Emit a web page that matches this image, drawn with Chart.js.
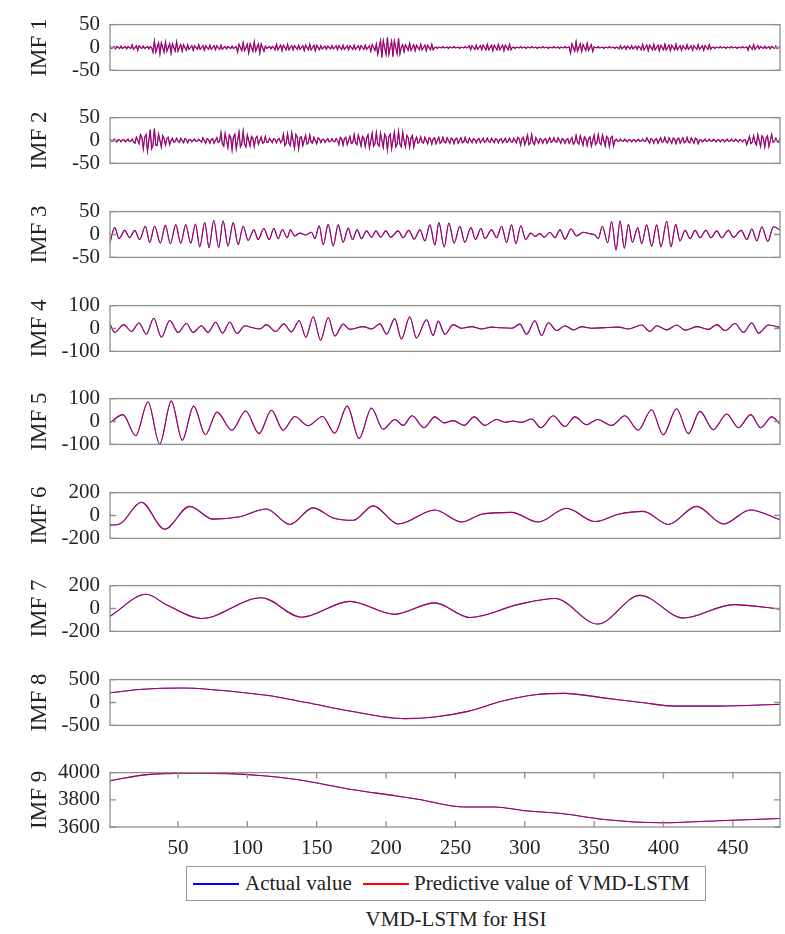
<!DOCTYPE html>
<html>
<head>
<meta charset="utf-8">
<script src="https://cdn.jsdelivr.net/npm/chart.js@4.4.0/dist/chart.umd.min.js"></script>
<style>
  body { margin: 0; background: #fff; }
  #wrap { position: relative; width: 785px; height: 934px; font-family: "Liberation Serif", "Times New Roman", serif; color: #222; }
  #legend { position: absolute; left: 186px; top: 866px; width: 518px; height: 33px; border: 1px solid #9a9a9a; background: #fff; }
  #legend .sw { position: absolute; top: 16px; width: 46px; height: 1.5px; }
  #legend .tx { position: absolute; top: 0; line-height: 33px; font-size: 21px; white-space: nowrap; }
  #title { position: absolute; left: 356px; top: 906px; width: 200px; text-align: center; font-size: 21px; line-height: 26px; }
</style>
</head>
<body>
<div id="wrap">
  <div id="legend">
    <span class="sw" style="left:6px;background:#0000ff"></span><span class="tx" style="left:58px">Actual value</span>
    <span class="sw" style="left:176px;background:#ff0000"></span><span class="tx" style="left:227px">Predictive value of VMD-LSTM</span>
  </div>
  <div id="title">VMD-LSTM for HSI</div>
</div>
<script>
// values (samples 1..484)
const imfLabels = ["IMF 1", "IMF 2", "IMF 3", "IMF 4", "IMF 5", "IMF 6", "IMF 7", "IMF 8", "IMF 9"];
const seriesNames = ["Actual value", "Predictive value of VMD-LSTM"];
const xTicks = [50, 100, 150, 200, 250, 300, 350, 400, 450];
const yTickSets = [
  [-50, 0, 50], [-50, 0, 50], [-50, 0, 50],
  [-100, 0, 100], [-100, 0, 100],
  [-200, 0, 200], [-200, 0, 200],
  [-500, 0, 500], [3600, 3800, 4000]
];

// IMF 1 and IMF 2: one value per sample
const imf1 = [
  3,-2,0,2,-3,2,0,-2, 3,-2,0,2,-3,2,0,-2, 6,-4,0,4,-6,4,0,-2, 3,-2,0,2,-3,2,0,-10,
  14,-10,0,10,-14,10,0,-10, 12,-8,0,8,-12,8,0,-8, 12,-8,0,6,-8,6,0,-6, 6,-4,0,4,-6,4,0,-4,
  6,-4,0,4,-6,4,0,-4, 5,-4,0,4,-5,4,0,-4, 5,-4,0,2,-3,2,0,-2, 3,-2,0,2,-10,7,0,-7,
  10,-7,0,7,-12,8,0,-8, 12,-8,0,8,-12,8,0,-8, 3,-2,0,2,-3,2,0,-5, 7,-5,0,5,-7,5,0,-5,
  7,-5,0,4,-5,4,0,-4, 5,-4,0,4,-7,5,0,-5, 7,-5,0,5,-7,5,0,-5, 4,-3,0,3,-4,3,0,-3,
  4,-3,0,4,-5,4,0,-4, 5,-4,0,4,-5,4,0,-4, 5,-4,0,4,-5,4,0,-4, 5,-4,0,4,-8,6,0,-6,
  8,-15,0,15,-22,15,0,-15, 22,-15,0,14,-20,14,0,-14, 20,-14,0,6,-9,6,0,-6, 9,-6,0,6,-7,5,0,-5,
  7,-5,0,5,-7,5,0,-5, 7,-5,0,1,-2,1,0,-1, 2,-1,0,1,-2,1,0,-1, 2,-1,0,1,-2,1,0,-1,
  2,-1,0,4,-5,4,0,-4, 5,-4,0,4,-5,5,0,-5, 7,-5,0,5,-7,5,0,-5, 7,-5,0,5,-7,5,0,-5,
  7,-5,0,1,-2,1,0,-1, 2,-1,0,1,-2,1,0,-1, 2,-1,0,1,-2,1,0,-1, 2,-1,0,1,-2,1,0,-1,
  2,-1,0,1,-2,1,0,-1, 2,-1,0,1,-12,8,0,-8, 12,-8,0,8,-9,6,0,-6, 9,-6,0,6,-9,1,0,-1,
  2,-1,0,1,-2,1,0,-1, 2,-1,0,1,-2,1,0,-3, 4,-3,0,3,-4,3,0,-3, 4,-3,0,3,-4,3,0,-5,
  7,-5,0,5,-7,5,0,-5, 7,-5,0,5,-7,5,0,-5, 7,-5,0,5,-7,5,0,-5, 7,-5,0,4,-6,4,0,-4,
  6,-4,0,4,-6,4,0,-4, 6,-4,0,4,-6,4,0,-4, 6,-4,0,1,-2,1,0,-1, 2,-1,0,1,-2,1,0,-1,
  2,-1,0,1,-2,1,0,-1, 2,-1,0,1,-6,4,0,-4, 6,-4,0,4,-3,2,0,-2, 3,-2,0,2,-3,2,0,-2,
  3,-2,0,2
];
const imf2 = [
  3,-1,-2,3,0,-3,2,1,-3,1,2,-3,0,3,-2,-1,
  3,-3,-6,7,0,-7,13,7,-18,7,13,-23,0,24,-18,-10,
  26,-10,-11,14,0,-14,11,4,-10,4,7,-9,0,5,-4,-2,
  5,-2,-4,5,0,-5,4,2,-5,2,2,-3,0,3,-2,-1,
  3,-1,-4,6,0,-6,4,2,-6,2,4,-6,0,6,-4,-2,
  17,-7,-12,15,0,-15,12,7,-20,8,14,-18,0,18,-14,-8,
  20,-8,-14,12,0,-12,9,5,-13,5,9,-8,0,8,-6,-4,
  9,-4,-4,5,0,-5,4,2,-5,2,4,-5,0,14,-11,-6,
  15,-6,-11,17,0,-17,13,7,-18,7,8,-11,0,11,-8,-5,
  12,-3,-6,7,0,-7,6,3,-4,2,3,-4,0,4,-3,-2,
  4,-2,-3,4,0,-9,7,4,-10,4,7,-9,0,9,-7,-5,
  13,-5,-9,12,0,-12,9,5,-13,5,12,-16,0,16,-12,-7,
  17,-7,-12,16,0,-15,14,8,-20,8,14,-18,0,18,-14,-8,
  20,-8,-14,18,0,-14,11,6,-15,6,11,-14,0,7,-6,-3,
  8,-3,-6,7,0,-7,6,3,-8,3,6,-7,0,7,-6,-3,
  7,-3,-5,6,0,-6,5,3,-7,3,5,-6,0,6,-5,-3,
  7,-3,-5,5,0,-5,4,2,-5,2,4,-5,0,5,-4,-2,
  5,-2,-4,5,0,-5,4,2,-5,2,4,-5,0,5,-4,-2,
  5,-2,-4,5,0,-5,7,4,-10,4,7,-9,0,12,-9,-5,
  13,-5,-9,6,0,-6,4,2,-6,2,4,-6,0,6,-4,-2,
  6,-2,-4,6,0,-6,4,2,-6,2,4,-6,0,6,-8,-4,
  11,-4,-8,10,0,-10,8,4,-11,4,8,-12,0,12,-9,-5,
  13,-5,-9,12,0,-12,9,5,-13,5,9,-12,0,3,-2,-1,
  3,-1,-2,3,0,-3,2,1,-3,1,2,-3,0,3,-2,-1,
  3,-1,-2,6,0,-6,4,2,-6,2,4,-6,0,6,-4,-2,
  7,-3,-5,6,0,-6,5,3,-7,3,5,-6,0,6,-5,-3,
  7,-3,-5,6,0,-6,5,3,-7,1,2,-3,0,3,-2,-1,
  3,-1,-2,3,0,-3,2,1,-3,1,2,-3,0,3,-2,-1,
  3,-1,-2,3,0,-3,2,1,-3,1,2,-9,0,9,-7,-4,
  10,-4,-10,13,0,-13,10,5,-14,5,10,-13,0,13,-4,-2,
  5,-2,-4,5
];

// IMF 3..9: turning points (sample, value)
const imf3X = [1,4.4,7.5,11.6,15.2,18.8,22.4,26.5,29.6,33.2, 37.3,40.9,44.5,48.4,52,55.6,59.2,62.6,65.7,69.3,
  72.4,75.8,79.4,82.5,86.1,89.8,93.4,97,100.6,104.7, 107.8,111.9,115.7,119.1,122.2,125.3,128.7,131.1,134.2,137.8,
  142.2,146.3,148.7,151.8,154.7,158.3,161.9,165.5,169.1,172.7, 175.8,179.2,182.3,185.9,189.6,192.7,196.1,199.9,203.3,208.7,
  212.3,216.4,220.3,224.4,228,231.6,235.2,238.1,241.9,245.3, 249.1,253.2,256.8,261.2,264.5,268.4,271.3,276.1,279.7,283.3,
  286.9,290.5,293.6,297.2,300.6,304.4,307.3,310.9,314.1,318.1, 321.8,325.4,329,333.3,337.4,342.2,346.3,350.6,353,355.9,
  359.8,362.6,365.8,368.7,371.8,374.7,377.6,381.4,384.3,387.9, 391.5,395.1,398.2,402.3,405.4,408.8,411.9,415.6,419.2,422.8,
  426.4,430.5,434.3,438.4,442,446.8,450.4,456,460.1,463.7, 467.3,470.9,475.2,479.3,484];
const imf3Y = [-17,15,-9,9,-7,9,-11,18,-17,18, -19,20,-20,21,-19,21,-19,23,-27,26,
  -29,31,-29,30,-25,26,-22,18,-13,10, -11,13,-11,13,-9,11,-7,10,-3,3,
  -1,5,-9,19,-22,22,-25,21,-17,14, -11,10,-9,8,-6,8,-6,8,-6,8,
  -7,9,-10,10,-14,21,-23,26,-27,25, -19,18,-17,15,-11,13,-9,10,-7,18,
  -17,21,-20,19,-11,3,-4,2,-6,5, -7,10,-10,12,-3,5,2,-1,-9,18,
  -18,29,-34,30,-30,22,-17,15,-20,21, -26,21,-27,29,-27,22,-14,9,-9,9,
  -7,9,-7,8,-7,9,-6,9,-11,12, -14,17,-15,17,10];
const imf4X = [1,4.4,10.9,16.4,21.9,27.2,32.5,38,44.1,50.1, 56.1,60.9,66.9,71.7,77.2,82.1,87.3,92.6,98.2,104.2,
  109,113.8,120.5,126.3,131.8,137.4,142.2,147.5,152.8,158.3, 163.1,169.1,173.9,183.5,189.6,195.6,200.4,206.3,211.1,217.1,
  221.9,229.2,234,237.6,242.4,248.4,254.4,261.6,268.8,276.1, 282.1,290.5,296.5,301.3,307.3,312.1,317,323,329,335,
  341,348.2,357.8,367.5,374.7,384.3,390.3,395.1,402.3,409.5, 415.6,424,432.4,438.4,444.4,451.6,457.6,463.7,468.5,475.7, 484];
const imf4Y = [19,-17,17,-13,24,-25,45,-38,35,-17, 22,-17,12,-17,27,-20,27,-22,12,3,
  -2,17,-13,20,-15,34,-38,51,-51,48, -33,19,-4,8,-2,20,-25,43,-46,51,
  -41,38,-30,32,-25,17,1,8,-2,6, 3,1,19,-25,34,-30,25,-9,12,-6,
  8,1,4,6,-2,15,-13,12,-6,15, -7,8,-4,17,-9,22,-17,24,-20,15, 4];
const imf5X = [1,10.3,19.5,28.4,36.8,45.2,53.1,61.3,69.8,78.1, 88.9,98.8,108.4,117.4,125.8,134.2,143.8,154.2,163,172,
  180.6,189.5,197.9,206.3,212.3,218.8,227.4,235.1,241.9,248.3, 256.3,263.5,271.2,279.6,285.6,291.6,297.6,304.9,311.6,320.5,
  328.9,336.1,344.5,352.5,362.6,372.2,381.8,391.4,399.8,409.5, 417.9,426.3,435.9,445.6,454,462.9,470.1,478.1,484];
const imf5Y = [-6,30,-62,85,-98,89,-82,67,-58,41, -38,46,-53,49,-38,22,-18,22,-51,67,
  -74,59,-34,9,-17,25,-27,20,-6,4, -17,20,-17,9,-3,2,-4,11,-27,25,
  -22,20,-14,9,-17,25,-38,51,-58,56, -53,44,-36,33,-27,30,-27,20,-12];
const imf6X = [1,8,23.6,40.4,58.4,75.3,94.5,113.8,130.6,147.4,161.8,176.3,190.7,208.7,
  235.2,254.5,268.9,290.5,309.7,330.2,350.6,367.5,385.5,403.5,423.9,443.2,462.5,484];
const imf6Y = [-84,-74,116,-120,80,-32,-11,57,-78,67,-21,-42,84,-74,
  48,-57,11,27,-57,63,-53,11,36,-78,80,-74,48,-38];
const imf7X = [1,27.2,42,66.9,110.2,139,173.9,206,235,260.5,295,321.8,352.6,383,414.4,450.5,484];
const imf7Y = [-68,124,30,-87,94,-76,62,-51,49,-78,34,87,-136,115,-83,34,-4];
const imf8X = [1,24.7,53.6,75,113.8,142.6,173.9,213.6,235,259,283.3,307.4,329,355.5,384.3,408.4,439.6,484];
const imf8Y = [212,290,316,280,158,0,-184,-352,-316,-194,26,169,200,106,0,-79,-79,-37];
const imf9X = [1,29.6,63.3,109,137.8,173.9,207.6,223,256.9,278.5,300,326.6,355.5,398.8,439.6,484];
const imf9Y = [3941,3987,3996,3979,3945,3878,3828,3804,3747,3747,3720,3699,3657,3631,3646,3663];

const imfX = [null, null, imf3X, imf4X, imf5X, imf6X, imf7X, imf8X, imf9X];
const imfY = [imf1, imf2, imf3Y, imf4Y, imf5Y, imf6Y, imf7Y, imf8Y, imf9Y];

// layout
const panelTops = [16, 109, 203, 297, 390, 484, 577, 671, 764];
const plotH = 63;

Chart.defaults.font.family = '"Liberation Serif", "Times New Roman", serif';
Chart.defaults.color = '#222';

// frame + inward tick marks like the matlab box
const framePlugin = {
  id: 'frame',
  afterDraw(chart) {
    const { ctx, chartArea: a, scales } = chart;
    ctx.save();
    ctx.strokeStyle = '#8f8f8f';
    ctx.lineWidth = 1.3;
    ctx.beginPath();
    scales.y.ticks.forEach(t => {
      const y = scales.y.getPixelForValue(t.value);
      ctx.moveTo(a.left, y); ctx.lineTo(a.left + 6, y);
      ctx.moveTo(a.right, y); ctx.lineTo(a.right - 6, y);
    });
    if (scales.x.options.display) {
      scales.x.ticks.forEach(t => {
        const x = scales.x.getPixelForValue(t.value);
        ctx.moveTo(x, a.bottom); ctx.lineTo(x, a.bottom - 6);
        ctx.moveTo(x, a.top); ctx.lineTo(x, a.top + 6);
      });
    }
    ctx.stroke();
    ctx.strokeRect(a.left, a.top, a.width, a.height);
    ctx.restore();
  }
};

const wrap = document.getElementById('wrap');

imfY.forEach((ys, i) => {
  const last = i === imfY.length - 1;
  const h = last ? 14 + plotH + 36 + 4 : 14 + plotH + 14;
  const canvas = document.createElement('canvas');
  canvas.width = 785;
  canvas.height = h;
  canvas.style.cssText = 'position:absolute;left:0;top:' + (panelTops[i] - 14) + 'px;width:785px;height:' + h + 'px';
  wrap.appendChild(canvas);

  const xs = imfX[i];
  const pts = ys.map((v, k) => ({ x: xs ? xs[k] : k + 1, y: v }));
  const yt = yTickSets[i];
  const lineOpts = {
    pointRadius: 0,
    borderWidth: 1.1,
    tension: xs ? 0.4 : 0,
    cubicInterpolationMode: xs ? 'monotone' : 'default',
    fill: false
  };

  new Chart(canvas, {
    type: 'line',
    data: {
      datasets: [
        Object.assign({ label: seriesNames[0], data: pts, borderColor: '#0000ff', order: 2 }, lineOpts),
        // prediction sits on top of the actual curve at this scale
        Object.assign({ label: seriesNames[1], data: pts, borderColor: 'rgba(255,0,0,0.68)', order: 1 }, lineOpts)
      ]
    },
    options: {
      responsive: false,
      animation: false,
      events: [],
      layout: { padding: { left: 0, right: 5, top: 14, bottom: last ? 4 : 14 } },
      plugins: { legend: { display: false }, tooltip: { enabled: false } },
      scales: {
        x: {
          type: 'linear', min: 1, max: 484, display: last,
          grid: { display: false, drawTicks: false },
          border: { display: false },
          afterBuildTicks: s => { s.ticks = xTicks.map(v => ({ value: v })); },
          afterFit: s => { if (s.options.display) s.height = 36; },
          ticks: { padding: 9, font: { size: 21 }, color: '#222', maxRotation: 0, autoSkip: false, callback: v => String(v) }
        },
        y: {
          min: yt[0], max: yt[2],
          grid: { display: false, drawTicks: false },
          border: { display: false },
          afterBuildTicks: s => { s.ticks = yt.map(v => ({ value: v })); },
          afterFit: s => { s.width = 110; },
          ticks: { padding: 10, font: { size: 21 }, color: '#222', autoSkip: false, callback: v => String(v) },
          title: { display: true, text: imfLabels[i], font: { size: 23 }, color: '#222', padding: { top: 26, bottom: 0 } }
        }
      }
    },
    plugins: [framePlugin]
  });
});
</script>
</body>
</html>
